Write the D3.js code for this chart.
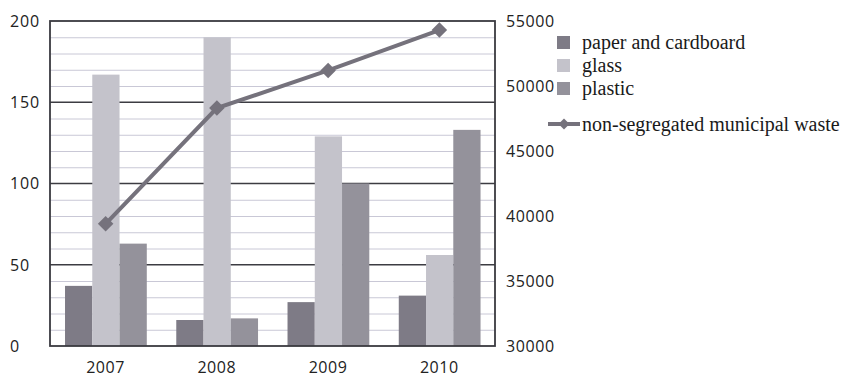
<!DOCTYPE html>
<html>
<head>
<meta charset="utf-8">
<script src="https://cdn.jsdelivr.net/npm/d3@7"></script>
<style>
html,body{margin:0;padding:0;background:#fff;}
svg{display:block;}
</style>
</head>
<body>
<svg id="chart" width="844" height="378"></svg>
<script>
const years = ["2007", "2008", "2009", "2010"];
const seriesNames = ["paper and cardboard", "glass", "plastic"];
const paper = [37, 16, 27, 31];
const glass = [167, 190, 129, 56];
const plastic = [63, 17, 100, 133];
const municipal = [39400, 48300, 51200, 54300];
const lineName = "non-segregated municipal waste";
const leftTicks = [0, 50, 100, 150, 200];
const rightTicks = [30000, 35000, 40000, 45000, 50000, 55000];

const colors = {"paper and cardboard": "#7e7b86", "glass": "#c4c3cb", "plastic": "#94929b"};
const lineColor = "#75727c";

const svg = d3.select("#chart");
const L = 50, R = 495, T = 21, B = 346;

const x0 = d3.scaleBand().domain(years).range([L, R]).padding(0);
const bw = x0.bandwidth();
const x1 = d3.scaleBand().domain(seriesNames).range([bw * 0.135, bw * 0.87]).padding(0);
const yL = d3.scaleLinear().domain([0, 200]).range([B, T]);
const yR = d3.scaleLinear().domain([30000, 55000]).range([B, T]);

// minor gridlines
const minor = d3.range(10, 200, 10).filter(v => v % 50 !== 0);
svg.append("g").selectAll("line").data(minor).join("line")
  .attr("x1", L).attr("x2", R)
  .attr("y1", d => yL(d) + 0.5).attr("y2", d => yL(d) + 0.5)
  .attr("stroke", "#c9c8d6").attr("stroke-width", 1);

// major gridlines
svg.append("g").selectAll("line").data([50, 100, 150]).join("line")
  .attr("x1", L).attr("x2", R)
  .attr("y1", d => yL(d)).attr("y2", d => yL(d))
  .attr("stroke", "#3c3c42").attr("stroke-width", 1.6);

// bars
const data = years.map((y, i) => ({year: y, vals: [paper[i], glass[i], plastic[i]]}));
svg.append("g").selectAll("g").data(data).join("g")
  .attr("transform", d => `translate(${x0(d.year)},0)`)
  .selectAll("rect").data(d => d.vals.map((v, j) => ({key: seriesNames[j], v})))
  .join("rect")
  .attr("x", d => x1(d.key))
  .attr("width", x1.bandwidth())
  .attr("y", d => yL(d.v))
  .attr("height", d => B - yL(d.v))
  .attr("fill", d => colors[d.key]);

// plot border
svg.append("rect").attr("x", L).attr("y", T).attr("width", R - L).attr("height", B - T)
  .attr("fill", "none").attr("stroke", "#3a3a40").attr("stroke-width", 1.8);

// line
const cx = y => x0(y) + bw / 2;
const lineGen = d3.line().x((d, i) => cx(years[i])).y(d => yR(d));
svg.append("path").datum(municipal).attr("d", lineGen)
  .attr("fill", "none").attr("stroke", lineColor).attr("stroke-width", 4);
svg.append("g").selectAll("path").data(municipal).join("path")
  .attr("transform", (d, i) => `translate(${cx(years[i])},${yR(d)}) rotate(45)`)
  .attr("d", d3.symbol().type(d3.symbolSquare).size(120))
  .attr("fill", lineColor);

// left axis labels
const axisFont = "'Open Sans', sans-serif";
svg.append("g").selectAll("text").data(leftTicks).join("text")
  .attr("x", 10).attr("y", d => yL(d)).attr("dy", "0.36em")
  .attr("font-family", axisFont).attr("font-size", 16).attr("letter-spacing", 0.9)
  .attr("fill", "#222").text(d => d);

// right axis labels
svg.append("g").selectAll("text").data(rightTicks).join("text")
  .attr("x", 506).attr("y", d => yR(d)).attr("dy", "0.36em")
  .attr("font-family", axisFont).attr("font-size", 16).attr("letter-spacing", 0.6)
  .attr("fill", "#222").text(d => d);

// year labels
svg.append("g").selectAll("text").data(years).join("text")
  .attr("x", d => cx(d)).attr("y", 373).attr("text-anchor", "middle")
  .attr("font-family", axisFont).attr("font-size", 16).attr("letter-spacing", 0.6)
  .attr("fill", "#222").text(d => d);

// legend
const legFont = "'Liberation Serif', 'Times New Roman', serif";
const legY = [42, 65, 88];
const leg = svg.append("g");
seriesNames.forEach((s, i) => {
  leg.append("rect").attr("x", 557).attr("y", legY[i] - 6).attr("width", 13).attr("height", 13)
    .attr("fill", colors[s]);
  leg.append("text").attr("x", 582).attr("y", legY[i]).attr("dy", "0.33em")
    .attr("font-family", legFont).attr("font-size", 20).attr("fill", "#1a1a1a").text(s);
});
const lineLegY = 124;
leg.append("line").attr("x1", 548).attr("x2", 580).attr("y1", lineLegY).attr("y2", lineLegY)
  .attr("stroke", lineColor).attr("stroke-width", 4);
leg.append("path").attr("transform", `translate(564,${lineLegY}) rotate(45)`)
  .attr("d", d3.symbol().type(d3.symbolSquare).size(60)).attr("fill", lineColor);
leg.append("text").attr("x", 582).attr("y", lineLegY).attr("dy", "0.33em")
  .attr("font-family", legFont).attr("font-size", 20).attr("fill", "#1a1a1a").text(lineName);
</script>
</body>
</html>
